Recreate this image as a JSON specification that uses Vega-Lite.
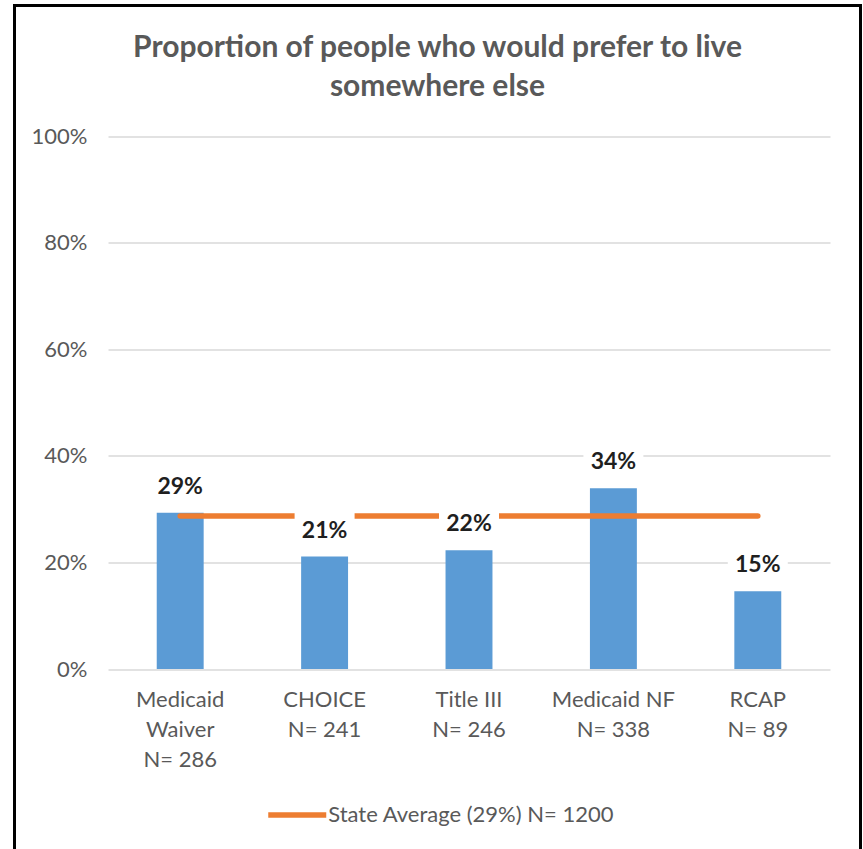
{
  "$schema": "https://vega.github.io/schema/vega-lite/v6.json",
  "autosize": "none",
  "width": 846,
  "height": 850,
  "padding": {"left": 14.5, "top": 5.5, "right": 2.5, "bottom": 0},
  "background": "white",
  "config": {
    "font": "Lato",
    "view": {"stroke": "black", "strokeWidth": 3}
  },
  "title": {
    "text": ["Proportion of people who would prefer to live", "somewhere else"],
    "fontSize": 30,
    "fontWeight": "bold",
    "color": "#595959",
    "anchor": "middle",
    "frame": "group",
    "baseline": "top",
    "lineHeight": 39,
    "offset": -96
  },
  "datasets": {
    "bars": [
      {"program": "Medicaid|Waiver|N= 286", "pct": 0.293},
      {"program": "CHOICE|N= 241", "pct": 0.211},
      {"program": "Title III|N= 246", "pct": 0.223},
      {"program": "Medicaid NF|N= 338", "pct": 0.339},
      {"program": "RCAP|N= 89", "pct": 0.146}
    ],
    "avg": [
      {"program": "Medicaid|Waiver|N= 286", "pct": 0.287, "series": "State Average (29%) N= 1200"},
      {"program": "RCAP|N= 89", "pct": 0.287, "series": "State Average (29%) N= 1200"}
    ]
  },
  "encoding": {
    "x": {
      "field": "program",
      "type": "nominal",
      "sort": null,
      "scale": {"range": [93.5, 815.5], "paddingInner": 0.675, "paddingOuter": 0.3375},
      "axis": {
        "orient": "bottom",
        "offset": -186.5,
        "labelExpr": "split(datum.label, '|')",
        "labelAngle": 0,
        "labelFontSize": 22,
        "labelColor": "#595959",
        "labelLineHeight": 30,
        "labelPadding": 20,
        "ticks": false,
        "domain": false,
        "title": null
      }
    },
    "y": {
      "field": "pct",
      "type": "quantitative",
      "scale": {"domain": [0, 1], "range": [663.5, 130.5]},
      "axis": {
        "values": [0, 0.2, 0.4, 0.6, 0.8, 1],
        "format": ".0%",
        "grid": true,
        "gridColor": "#D9D9D9",
        "gridWidth": 1.5,
        "ticks": false,
        "domain": false,
        "title": null,
        "labelFontSize": 22,
        "labelColor": "#595959",
        "labelPadding": 21,
        "offset": -93.5
      }
    }
  },
  "layer": [
    {
      "data": {"name": "bars"},
      "mark": {"type": "bar", "color": "#5B9BD5"}
    },
    {
      "data": {"name": "avg"},
      "mark": {"type": "line", "strokeWidth": 5.5, "strokeCap": "round"},
      "encoding": {
        "color": {
          "field": "series",
          "type": "nominal",
          "scale": {"range": ["#ED7D31"]},
          "legend": {
            "orient": "none",
            "legendX": 250.75,
            "legendY": 777.5,
            "padding": 0,
            "title": null,
            "symbolType": "stroke",
            "symbolSize": 3364,
            "symbolStrokeWidth": 5.5,
            "labelFontSize": 22,
            "labelColor": "#595959",
            "labelOffset": -1,
            "labelLimit": 500
          }
        }
      }
    },
    {
      "data": {"name": "bars"},
      "mark": {
        "type": "point",
        "shape": "M-1,-0.6H1V0.6H-1Z",
        "size": 3600,
        "filled": true,
        "color": "white",
        "opacity": 1,
        "strokeWidth": 0,
        "yOffset": -26
      }
    },
    {
      "data": {"name": "bars"},
      "mark": {
        "type": "text",
        "dy": -26,
        "baseline": "middle",
        "fontSize": 23,
        "fontWeight": "bold",
        "color": "#1f1f1f"
      },
      "encoding": {
        "text": {"field": "pct", "type": "quantitative", "format": ".0%"}
      }
    }
  ]
}
